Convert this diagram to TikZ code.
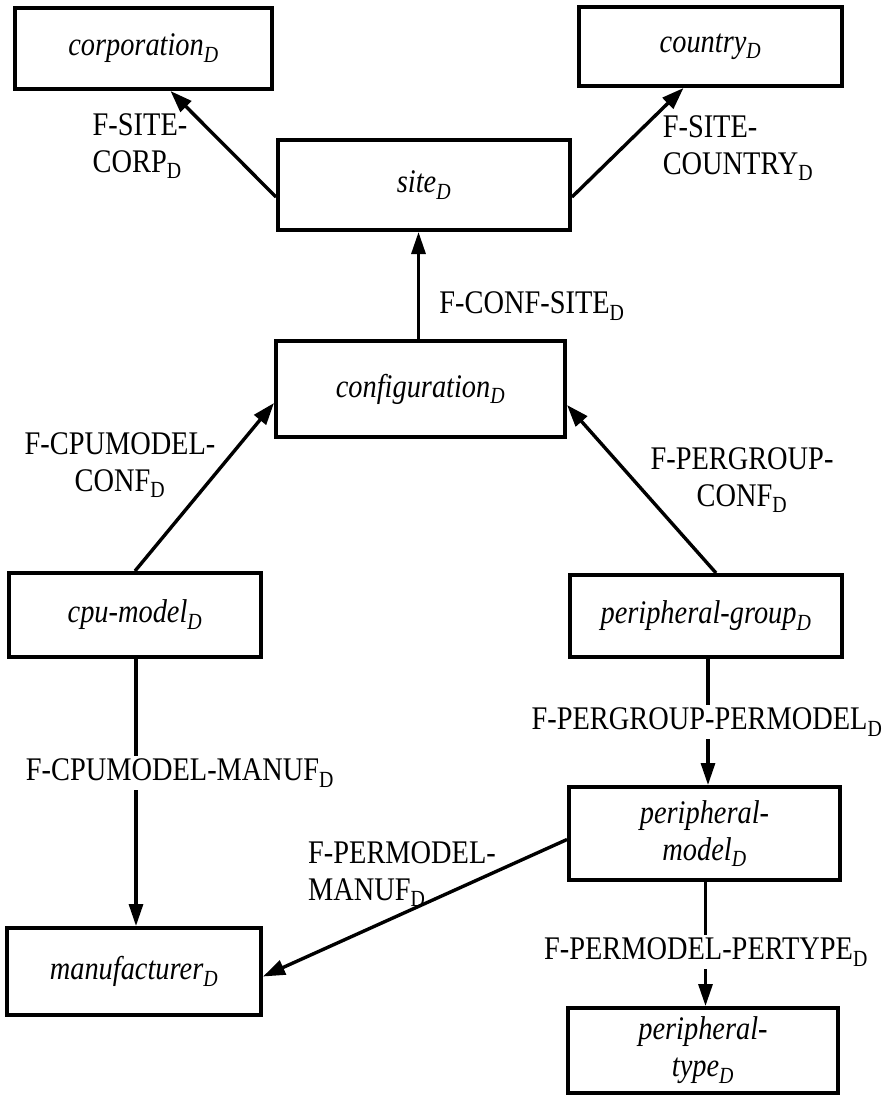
\documentclass[tikz,border=0pt]{standalone}
\usepackage{fontspec}
\setmainfont{Liberation Serif}[FakeStretch=0.86]
\usetikzlibrary{arrows.meta,calc}
\begin{document}
\begin{tikzpicture}[x=1pt,y=-1pt,
  box/.style={draw,line width=4pt,inner sep=0pt,align=center,
    font=\fontsize{33}{37}\selectfont\itshape},
  arr/.style={line width=3.4pt,-{Triangle[length=22pt,width=15pt]}},
  varr/.style={line width=3.1pt,-{Triangle[length=22pt,width=14pt]}},
  lab/.style={inner sep=1pt,font=\fontsize{33}{37}\selectfont},
  gaplab/.style={lab,fill=white,inner sep=3pt}]
\fill[white] (0,0) rectangle (896,1095);
\useasboundingbox (0,0) rectangle (896,1095);

% nodes
\node[box,minimum width=257pt,minimum height=81pt] (corp) at (143.5,48.5) {corporation\textsubscript{D}};
\node[box,minimum width=263pt,minimum height=79pt] (country) at (710.5,46.5) {country\textsubscript{D}};
\node[box,minimum width=292pt,minimum height=90pt] (site) at (424,185) {site\textsubscript{D}};
\node[box,minimum width=289pt,minimum height=96pt] (conf) at (420.5,389) {configuration\textsubscript{D}};
\node[box,minimum width=252pt,minimum height=84pt] (cpu) at (135,615) {cpu-model\textsubscript{D}};
\node[box,minimum width=272pt,minimum height=82pt] (pgroup) at (706,616) {peripheral-group\textsubscript{D}};
\node[box,minimum width=271pt,minimum height=93pt] (pmodel) at (704.5,833.5) {peripheral-\\model\textsubscript{D}};
\node[box,minimum width=254pt,minimum height=87pt] (manuf) at (134,971.5) {manufacturer\textsubscript{D}};
\node[box,minimum width=270pt,minimum height=85pt] (ptype) at (703,1050.5) {peripheral-\\type\textsubscript{D}};

% connectors
\draw[arr] ([yshift=-12pt]site.west) -- ([xshift=27pt]corp.south);
\draw[arr] ([yshift=-12pt]site.east) -- ([xshift=-27pt]country.south);
\draw[varr] ([xshift=-2pt]conf.north) -- ([xshift=-2pt]conf.north |- site.south);
\draw[arr] (cpu.north) -- ([yshift=-14pt]conf.west);
\draw[arr] ([xshift=10pt]pgroup.north) -- ([yshift=-16pt]conf.east);
\draw[varr] ([xshift=1pt]cpu.south) -- ([xshift=1pt]cpu.south |- manuf.north);
\draw[varr] ([xshift=2pt]pgroup.south) -- ([xshift=2pt]pgroup.south |- pmodel.north);
\draw[arr] ([yshift=-6pt]pmodel.west) -- ([yshift=-5pt]manuf.east);
\draw[varr] ([xshift=1pt]pmodel.south) -- ([xshift=1pt]pmodel.south |- ptype.north);

% labels
\node[lab,align=left] (l1) at (140,146) {F-SITE-\\CORP\textsubscript{D}};
\node[lab,align=left] (l2) at (738,148) {F-SITE-\\COUNTRY\textsubscript{D}};
\node[lab] (l3) at (532,306) {F-CONF-SITE\textsubscript{D}};
\node[lab,align=center] (l4) at (120,465) {F-CPUMODEL-\\CONF\textsubscript{D}};
\node[lab,align=center] (l5) at (742,480) {F-PERGROUP-\\CONF\textsubscript{D}};
\node[gaplab] (l6) at (180,773) {F-CPUMODEL-MANUF\textsubscript{D}};
\node[gaplab] (l7) at (707,722) {F-PERGROUP-PERMODEL\textsubscript{D}};
\node[lab,align=left] (l8) at (402,874) {F-PERMODEL-\\MANUF\textsubscript{D}};
\node[gaplab] (l9) at (706,952) {F-PERMODEL-PERTYPE\textsubscript{D}};
\end{tikzpicture}
\end{document}
